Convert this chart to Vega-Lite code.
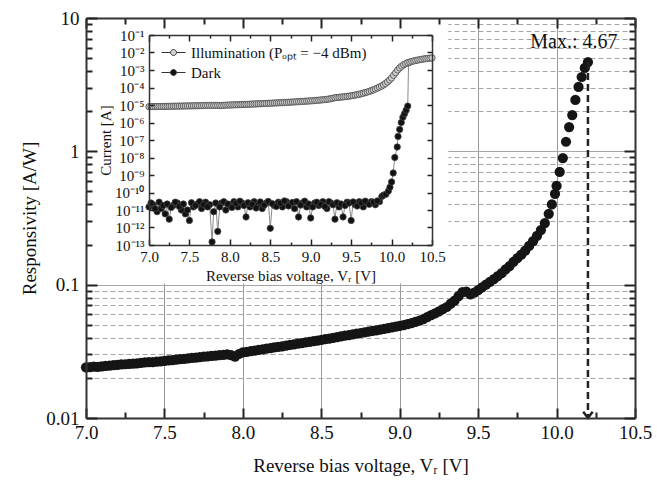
{
  "$schema": "https://vega.github.io/schema/vega-lite/v6.json",
  "width": 549,
  "height": 400,
  "autosize": {"type": "none"},
  "padding": {"left": 86, "top": 18, "right": 22, "bottom": 63},
  "background": "white",
  "config": {
    "view": {"stroke": null},
    "font": "Liberation Serif",
    "axis": {"grid": false, "labelFont": "Liberation Serif", "titleFont": "Liberation Serif", "labelColor": "#111", "titleColor": "#111", "titleFontWeight": "normal", "labelFlush": false, "labelOverlap": false, "labelBound": false}
  },
  "datasets": {
    "box": [{"x0": 7, "x1": 9.31, "y0": 0.102, "y1": 10}],
    "maxv": [{"V": 10.2, "top": 4.67, "bottom": 0.01, "label": "Max.: 4.67"}],
    "resp": [
      {"V": 7.000, "R": 0.0240}, {"V": 7.025, "R": 0.0241}, {"V": 7.050, "R": 0.0243}, {"V": 7.075, "R": 0.0242},
      {"V": 7.100, "R": 0.0244}, {"V": 7.125, "R": 0.0246}, {"V": 7.150, "R": 0.0247}, {"V": 7.175, "R": 0.0249},
      {"V": 7.200, "R": 0.0250}, {"V": 7.225, "R": 0.0252}, {"V": 7.250, "R": 0.0253}, {"V": 7.275, "R": 0.0255},
      {"V": 7.300, "R": 0.0256}, {"V": 7.325, "R": 0.0257}, {"V": 7.350, "R": 0.0259}, {"V": 7.375, "R": 0.0261},
      {"V": 7.400, "R": 0.0262}, {"V": 7.425, "R": 0.0263}, {"V": 7.450, "R": 0.0265}, {"V": 7.475, "R": 0.0266},
      {"V": 7.500, "R": 0.0268}, {"V": 7.525, "R": 0.0270}, {"V": 7.550, "R": 0.0272}, {"V": 7.575, "R": 0.0274},
      {"V": 7.600, "R": 0.0276}, {"V": 7.625, "R": 0.0278}, {"V": 7.650, "R": 0.0280}, {"V": 7.675, "R": 0.0282},
      {"V": 7.700, "R": 0.0284}, {"V": 7.725, "R": 0.0286}, {"V": 7.750, "R": 0.0288}, {"V": 7.775, "R": 0.0290},
      {"V": 7.800, "R": 0.0292}, {"V": 7.825, "R": 0.0294}, {"V": 7.850, "R": 0.0296}, {"V": 7.875, "R": 0.0298},
      {"V": 7.900, "R": 0.0300}, {"V": 7.925, "R": 0.0296}, {"V": 7.950, "R": 0.0288}, {"V": 7.975, "R": 0.0302},
      {"V": 8.000, "R": 0.0310}, {"V": 8.025, "R": 0.0313}, {"V": 8.050, "R": 0.0317}, {"V": 8.075, "R": 0.0320},
      {"V": 8.100, "R": 0.0324}, {"V": 8.125, "R": 0.0327}, {"V": 8.150, "R": 0.0331}, {"V": 8.175, "R": 0.0334},
      {"V": 8.200, "R": 0.0338}, {"V": 8.225, "R": 0.0342}, {"V": 8.250, "R": 0.0345}, {"V": 8.275, "R": 0.0349},
      {"V": 8.300, "R": 0.0353}, {"V": 8.325, "R": 0.0357}, {"V": 8.350, "R": 0.0361}, {"V": 8.375, "R": 0.0365},
      {"V": 8.400, "R": 0.0369}, {"V": 8.425, "R": 0.0373}, {"V": 8.450, "R": 0.0377}, {"V": 8.475, "R": 0.0381},
      {"V": 8.500, "R": 0.0385}, {"V": 8.525, "R": 0.0390}, {"V": 8.550, "R": 0.0394}, {"V": 8.575, "R": 0.0399},
      {"V": 8.600, "R": 0.0404}, {"V": 8.625, "R": 0.0409}, {"V": 8.650, "R": 0.0414}, {"V": 8.675, "R": 0.0419},
      {"V": 8.700, "R": 0.0424}, {"V": 8.725, "R": 0.0429}, {"V": 8.750, "R": 0.0434}, {"V": 8.775, "R": 0.0439},
      {"V": 8.800, "R": 0.0444}, {"V": 8.825, "R": 0.0450}, {"V": 8.850, "R": 0.0455}, {"V": 8.875, "R": 0.0461},
      {"V": 8.900, "R": 0.0466}, {"V": 8.925, "R": 0.0472}, {"V": 8.950, "R": 0.0478}, {"V": 8.975, "R": 0.0484},
      {"V": 9.000, "R": 0.0490}, {"V": 9.025, "R": 0.0498}, {"V": 9.050, "R": 0.0506}, {"V": 9.075, "R": 0.0514},
      {"V": 9.100, "R": 0.0525}, {"V": 9.125, "R": 0.0538}, {"V": 9.150, "R": 0.0552}, {"V": 9.175, "R": 0.0570},
      {"V": 9.200, "R": 0.0590}, {"V": 9.225, "R": 0.0610}, {"V": 9.250, "R": 0.0630}, {"V": 9.275, "R": 0.0655},
      {"V": 9.300, "R": 0.0680}, {"V": 9.325, "R": 0.0720}, {"V": 9.350, "R": 0.0760}, {"V": 9.375, "R": 0.0820},
      {"V": 9.400, "R": 0.0880}, {"V": 9.425, "R": 0.0885}, {"V": 9.450, "R": 0.0845}, {"V": 9.475, "R": 0.0870},
      {"V": 9.500, "R": 0.0910}, {"V": 9.525, "R": 0.0955}, {"V": 9.550, "R": 0.1000}, {"V": 9.575, "R": 0.1050},
      {"V": 9.600, "R": 0.1100}, {"V": 9.625, "R": 0.1160}, {"V": 9.650, "R": 0.1220}, {"V": 9.675, "R": 0.1300},
      {"V": 9.700, "R": 0.1380}, {"V": 9.725, "R": 0.1480}, {"V": 9.750, "R": 0.1580}, {"V": 9.775, "R": 0.1680},
      {"V": 9.800, "R": 0.1800}, {"V": 9.825, "R": 0.1950}, {"V": 9.850, "R": 0.2120}, {"V": 9.875, "R": 0.2320},
      {"V": 9.900, "R": 0.2570}, {"V": 9.925, "R": 0.2900}, {"V": 9.950, "R": 0.3400}, {"V": 9.970, "R": 0.4000},
      {"V": 9.990, "R": 0.4800}, {"V": 10.00, "R": 0.5500}, {"V": 10.02, "R": 0.7000}, {"V": 10.04, "R": 0.8900},
      {"V": 10.06, "R": 1.18}, {"V": 10.08, "R": 1.52}, {"V": 10.10, "R": 1.87}, {"V": 10.12, "R": 2.43},
      {"V": 10.14, "R": 3.04}, {"V": 10.16, "R": 3.61}, {"V": 10.18, "R": 4.22}, {"V": 10.20, "R": 4.67}
    ],
    "inset": [
      {"series": "Dark", "V": 7.00, "I": 1.5e-11}, {"series": "Dark", "V": 7.05, "I": 2.0e-11}, {"series": "Dark", "V": 7.10, "I": 8e-12},
      {"series": "Dark", "V": 7.15, "I": 1.2e-11}, {"series": "Dark", "V": 7.20, "I": 6e-12}, {"series": "Dark", "V": 7.25, "I": 3e-12},
      {"series": "Dark", "V": 7.30, "I": 1.8e-11}, {"series": "Dark", "V": 7.35, "I": 2.5e-11}, {"series": "Dark", "V": 7.40, "I": 1.0e-11},
      {"series": "Dark", "V": 7.45, "I": 6e-12}, {"series": "Dark", "V": 7.50, "I": 2.5e-12}, {"series": "Dark", "V": 7.55, "I": 1.5e-11},
      {"series": "Dark", "V": 7.60, "I": 2.2e-11}, {"series": "Dark", "V": 7.65, "I": 1.2e-11}, {"series": "Dark", "V": 7.70, "I": 2.8e-11},
      {"series": "Dark", "V": 7.75, "I": 2.0e-11}, {"series": "Dark", "V": 7.78, "I": 1.5e-13}, {"series": "Dark", "V": 7.80, "I": 8e-12},
      {"series": "Dark", "V": 7.85, "I": 6e-13}, {"series": "Dark", "V": 7.90, "I": 2.5e-11}, {"series": "Dark", "V": 7.95, "I": 1.0e-11},
      {"series": "Dark", "V": 8.00, "I": 2.0e-11}, {"series": "Dark", "V": 8.05, "I": 3.0e-11}, {"series": "Dark", "V": 8.10, "I": 1.5e-11},
      {"series": "Dark", "V": 8.15, "I": 2.5e-11}, {"series": "Dark", "V": 8.20, "I": 4e-12}, {"series": "Dark", "V": 8.25, "I": 1.5e-11},
      {"series": "Dark", "V": 8.30, "I": 3e-11}, {"series": "Dark", "V": 8.35, "I": 2e-11}, {"series": "Dark", "V": 8.40, "I": 1.2e-11},
      {"series": "Dark", "V": 8.45, "I": 2.5e-11}, {"series": "Dark", "V": 8.50, "I": 9e-13}, {"series": "Dark", "V": 8.55, "I": 1.8e-11},
      {"series": "Dark", "V": 8.60, "I": 2.8e-11}, {"series": "Dark", "V": 8.65, "I": 1.5e-11}, {"series": "Dark", "V": 8.70, "I": 3e-11},
      {"series": "Dark", "V": 8.75, "I": 2.2e-11}, {"series": "Dark", "V": 8.80, "I": 1.2e-11}, {"series": "Dark", "V": 8.85, "I": 4e-12},
      {"series": "Dark", "V": 8.90, "I": 2.5e-11}, {"series": "Dark", "V": 8.95, "I": 1.5e-11}, {"series": "Dark", "V": 9.00, "I": 3.5e-12},
      {"series": "Dark", "V": 9.05, "I": 2.5e-11}, {"series": "Dark", "V": 9.10, "I": 1.8e-11}, {"series": "Dark", "V": 9.15, "I": 3e-11},
      {"series": "Dark", "V": 9.20, "I": 1.2e-11}, {"series": "Dark", "V": 9.25, "I": 2.5e-11}, {"series": "Dark", "V": 9.30, "I": 3e-12},
      {"series": "Dark", "V": 9.35, "I": 1.5e-11}, {"series": "Dark", "V": 9.40, "I": 4e-12}, {"series": "Dark", "V": 9.45, "I": 2.8e-11},
      {"series": "Dark", "V": 9.50, "I": 2.5e-12}, {"series": "Dark", "V": 9.55, "I": 2e-11}, {"series": "Dark", "V": 9.60, "I": 3e-11},
      {"series": "Dark", "V": 9.65, "I": 1.5e-11}, {"series": "Dark", "V": 9.70, "I": 2.5e-11}, {"series": "Dark", "V": 9.75, "I": 3e-11},
      {"series": "Dark", "V": 9.80, "I": 2e-11}, {"series": "Dark", "V": 9.85, "I": 3e-11}, {"series": "Dark", "V": 9.88, "I": 6e-11},
      {"series": "Dark", "V": 9.90, "I": 7e-11}, {"series": "Dark", "V": 9.93, "I": 8e-11}, {"series": "Dark", "V": 9.96, "I": 1.2e-10},
      {"series": "Dark", "V": 9.98, "I": 2e-10}, {"series": "Dark", "V": 10.00, "I": 4e-10}, {"series": "Dark", "V": 10.02, "I": 1.3e-9},
      {"series": "Dark", "V": 10.04, "I": 1e-8}, {"series": "Dark", "V": 10.07, "I": 4e-8}, {"series": "Dark", "V": 10.08, "I": 1.6e-7},
      {"series": "Dark", "V": 10.10, "I": 4e-7}, {"series": "Dark", "V": 10.12, "I": 1e-6}, {"series": "Dark", "V": 10.14, "I": 2e-6},
      {"series": "Dark", "V": 10.16, "I": 3.2e-6}, {"series": "Dark", "V": 10.18, "I": 5e-6}, {"series": "Dark", "V": 10.20, "I": 8.7e-6},
      {"series": "Dark", "V": 10.21, "I": 2.6e-3},
      {"series": "Dark", "V": 7.025, "I": 2.5e-11}, {"series": "Dark", "V": 7.075, "I": 1.2e-11}, {"series": "Dark", "V": 7.125, "I": 2.8e-11},
      {"series": "Dark", "V": 7.175, "I": 1.8e-11}, {"series": "Dark", "V": 7.225, "I": 2.2e-11}, {"series": "Dark", "V": 7.275, "I": 1.4e-11},
      {"series": "Dark", "V": 7.325, "I": 2.8e-11}, {"series": "Dark", "V": 7.375, "I": 1.6e-11}, {"series": "Dark", "V": 7.425, "I": 2.2e-11},
      {"series": "Dark", "V": 7.475, "I": 1.0e-11}, {"series": "Dark", "V": 7.525, "I": 2.6e-11}, {"series": "Dark", "V": 7.575, "I": 1.8e-11},
      {"series": "Dark", "V": 7.625, "I": 3e-11}, {"series": "Dark", "V": 7.675, "I": 2e-11}, {"series": "Dark", "V": 7.725, "I": 1.5e-11},
      {"series": "Dark", "V": 7.825, "I": 2.5e-11}, {"series": "Dark", "V": 7.875, "I": 1.5e-11}, {"series": "Dark", "V": 7.925, "I": 3e-11},
      {"series": "Dark", "V": 7.975, "I": 2.2e-11}, {"series": "Dark", "V": 8.025, "I": 1.4e-11}, {"series": "Dark", "V": 8.075, "I": 2.4e-11},
      {"series": "Dark", "V": 8.125, "I": 3.2e-11}, {"series": "Dark", "V": 8.175, "I": 1.8e-11}, {"series": "Dark", "V": 8.225, "I": 2.6e-11},
      {"series": "Dark", "V": 8.275, "I": 2.1e-11}, {"series": "Dark", "V": 8.325, "I": 1.3e-11}, {"series": "Dark", "V": 8.375, "I": 2.9e-11},
      {"series": "Dark", "V": 8.425, "I": 1.9e-11}, {"series": "Dark", "V": 8.475, "I": 3.1e-11}, {"series": "Dark", "V": 8.525, "I": 2.3e-11},
      {"series": "Dark", "V": 8.575, "I": 1.6e-11}, {"series": "Dark", "V": 8.625, "I": 2.4e-11}, {"series": "Dark", "V": 8.675, "I": 3.3e-11},
      {"series": "Dark", "V": 8.725, "I": 1.7e-11}, {"series": "Dark", "V": 8.775, "I": 2.7e-11}, {"series": "Dark", "V": 8.825, "I": 3e-11},
      {"series": "Dark", "V": 8.875, "I": 1.9e-11}, {"series": "Dark", "V": 8.925, "I": 3.2e-11}, {"series": "Dark", "V": 8.975, "I": 2.2e-11},
      {"series": "Dark", "V": 9.025, "I": 1.5e-11}, {"series": "Dark", "V": 9.075, "I": 2.8e-11}, {"series": "Dark", "V": 9.125, "I": 2.1e-11},
      {"series": "Dark", "V": 9.175, "I": 1.6e-11}, {"series": "Dark", "V": 9.225, "I": 3e-11}, {"series": "Dark", "V": 9.275, "I": 2e-11},
      {"series": "Dark", "V": 9.325, "I": 2.6e-11}, {"series": "Dark", "V": 9.375, "I": 2.2e-11}, {"series": "Dark", "V": 9.425, "I": 1.8e-11},
      {"series": "Dark", "V": 9.475, "I": 2.5e-11}, {"series": "Dark", "V": 9.525, "I": 2.9e-11}, {"series": "Dark", "V": 9.575, "I": 1.7e-11},
      {"series": "Dark", "V": 9.625, "I": 2.6e-11}, {"series": "Dark", "V": 9.675, "I": 3.2e-11}, {"series": "Dark", "V": 9.725, "I": 2.1e-11},
      {"series": "Dark", "V": 9.775, "I": 2.8e-11}, {"series": "Dark", "V": 9.825, "I": 3.3e-11},
      {"series": "Illumination (Pₒₚₜ = −4 dBm)", "V": 7.00, "I": 8.0e-6}, {"series": "Illumination (Pₒₚₜ = −4 dBm)", "V": 7.025, "I": 8.05e-6},
      {"series": "Illumination (Pₒₚₜ = −4 dBm)", "V": 7.05, "I": 8.1e-6}, {"series": "Illumination (Pₒₚₜ = −4 dBm)", "V": 7.075, "I": 8.15e-6},
      {"series": "Illumination (Pₒₚₜ = −4 dBm)", "V": 7.10, "I": 8.2e-6}, {"series": "Illumination (Pₒₚₜ = −4 dBm)", "V": 7.125, "I": 8.2e-6},
      {"series": "Illumination (Pₒₚₜ = −4 dBm)", "V": 7.15, "I": 8.2e-6}, {"series": "Illumination (Pₒₚₜ = −4 dBm)", "V": 7.175, "I": 8.25e-6},
      {"series": "Illumination (Pₒₚₜ = −4 dBm)", "V": 7.20, "I": 8.3e-6}, {"series": "Illumination (Pₒₚₜ = −4 dBm)", "V": 7.225, "I": 8.35e-6},
      {"series": "Illumination (Pₒₚₜ = −4 dBm)", "V": 7.25, "I": 8.4e-6}, {"series": "Illumination (Pₒₚₜ = −4 dBm)", "V": 7.275, "I": 8.45e-6},
      {"series": "Illumination (Pₒₚₜ = −4 dBm)", "V": 7.30, "I": 8.5e-6}, {"series": "Illumination (Pₒₚₜ = −4 dBm)", "V": 7.325, "I": 8.55e-6},
      {"series": "Illumination (Pₒₚₜ = −4 dBm)", "V": 7.35, "I": 8.6e-6}, {"series": "Illumination (Pₒₚₜ = −4 dBm)", "V": 7.375, "I": 8.65e-6},
      {"series": "Illumination (Pₒₚₜ = −4 dBm)", "V": 7.40, "I": 8.7e-6}, {"series": "Illumination (Pₒₚₜ = −4 dBm)", "V": 7.425, "I": 8.75e-6},
      {"series": "Illumination (Pₒₚₜ = −4 dBm)", "V": 7.45, "I": 8.8e-6}, {"series": "Illumination (Pₒₚₜ = −4 dBm)", "V": 7.475, "I": 8.85e-6},
      {"series": "Illumination (Pₒₚₜ = −4 dBm)", "V": 7.50, "I": 8.9e-6}, {"series": "Illumination (Pₒₚₜ = −4 dBm)", "V": 7.525, "I": 8.95e-6},
      {"series": "Illumination (Pₒₚₜ = −4 dBm)", "V": 7.55, "I": 9.0e-6}, {"series": "Illumination (Pₒₚₜ = −4 dBm)", "V": 7.575, "I": 9.05e-6},
      {"series": "Illumination (Pₒₚₜ = −4 dBm)", "V": 7.60, "I": 9.1e-6}, {"series": "Illumination (Pₒₚₜ = −4 dBm)", "V": 7.625, "I": 9.15e-6},
      {"series": "Illumination (Pₒₚₜ = −4 dBm)", "V": 7.65, "I": 9.2e-6}, {"series": "Illumination (Pₒₚₜ = −4 dBm)", "V": 7.675, "I": 9.3e-6},
      {"series": "Illumination (Pₒₚₜ = −4 dBm)", "V": 7.70, "I": 9.4e-6}, {"series": "Illumination (Pₒₚₜ = −4 dBm)", "V": 7.725, "I": 9.45e-6},
      {"series": "Illumination (Pₒₚₜ = −4 dBm)", "V": 7.75, "I": 9.5e-6}, {"series": "Illumination (Pₒₚₜ = −4 dBm)", "V": 7.775, "I": 9.45e-6},
      {"series": "Illumination (Pₒₚₜ = −4 dBm)", "V": 7.80, "I": 9.4e-6}, {"series": "Illumination (Pₒₚₜ = −4 dBm)", "V": 7.825, "I": 9.45e-6},
      {"series": "Illumination (Pₒₚₜ = −4 dBm)", "V": 7.85, "I": 9.5e-6}, {"series": "Illumination (Pₒₚₜ = −4 dBm)", "V": 7.875, "I": 9.4e-6},
      {"series": "Illumination (Pₒₚₜ = −4 dBm)", "V": 7.90, "I": 9.3e-6}, {"series": "Illumination (Pₒₚₜ = −4 dBm)", "V": 7.925, "I": 9.5e-6},
      {"series": "Illumination (Pₒₚₜ = −4 dBm)", "V": 7.95, "I": 9.8e-6}, {"series": "Illumination (Pₒₚₜ = −4 dBm)", "V": 7.975, "I": 9.9e-6},
      {"series": "Illumination (Pₒₚₜ = −4 dBm)", "V": 8.00, "I": 1.0e-5}, {"series": "Illumination (Pₒₚₜ = −4 dBm)", "V": 8.025, "I": 1.01e-5},
      {"series": "Illumination (Pₒₚₜ = −4 dBm)", "V": 8.05, "I": 1.02e-5}, {"series": "Illumination (Pₒₚₜ = −4 dBm)", "V": 8.075, "I": 1.03e-5},
      {"series": "Illumination (Pₒₚₜ = −4 dBm)", "V": 8.10, "I": 1.04e-5}, {"series": "Illumination (Pₒₚₜ = −4 dBm)", "V": 8.125, "I": 1.05e-5},
      {"series": "Illumination (Pₒₚₜ = −4 dBm)", "V": 8.15, "I": 1.06e-5}, {"series": "Illumination (Pₒₚₜ = −4 dBm)", "V": 8.175, "I": 1.075e-5},
      {"series": "Illumination (Pₒₚₜ = −4 dBm)", "V": 8.20, "I": 1.09e-5}, {"series": "Illumination (Pₒₚₜ = −4 dBm)", "V": 8.225, "I": 1.1e-5},
      {"series": "Illumination (Pₒₚₜ = −4 dBm)", "V": 8.25, "I": 1.11e-5}, {"series": "Illumination (Pₒₚₜ = −4 dBm)", "V": 8.275, "I": 1.125e-5},
      {"series": "Illumination (Pₒₚₜ = −4 dBm)", "V": 8.30, "I": 1.14e-5}, {"series": "Illumination (Pₒₚₜ = −4 dBm)", "V": 8.325, "I": 1.155e-5},
      {"series": "Illumination (Pₒₚₜ = −4 dBm)", "V": 8.35, "I": 1.17e-5}, {"series": "Illumination (Pₒₚₜ = −4 dBm)", "V": 8.375, "I": 1.185e-5},
      {"series": "Illumination (Pₒₚₜ = −4 dBm)", "V": 8.40, "I": 1.2e-5}, {"series": "Illumination (Pₒₚₜ = −4 dBm)", "V": 8.425, "I": 1.215e-5},
      {"series": "Illumination (Pₒₚₜ = −4 dBm)", "V": 8.45, "I": 1.23e-5}, {"series": "Illumination (Pₒₚₜ = −4 dBm)", "V": 8.475, "I": 1.245e-5},
      {"series": "Illumination (Pₒₚₜ = −4 dBm)", "V": 8.50, "I": 1.26e-5}, {"series": "Illumination (Pₒₚₜ = −4 dBm)", "V": 8.525, "I": 1.28e-5},
      {"series": "Illumination (Pₒₚₜ = −4 dBm)", "V": 8.55, "I": 1.3e-5}, {"series": "Illumination (Pₒₚₜ = −4 dBm)", "V": 8.575, "I": 1.315e-5},
      {"series": "Illumination (Pₒₚₜ = −4 dBm)", "V": 8.60, "I": 1.33e-5}, {"series": "Illumination (Pₒₚₜ = −4 dBm)", "V": 8.625, "I": 1.35e-5},
      {"series": "Illumination (Pₒₚₜ = −4 dBm)", "V": 8.65, "I": 1.37e-5}, {"series": "Illumination (Pₒₚₜ = −4 dBm)", "V": 8.675, "I": 1.39e-5},
      {"series": "Illumination (Pₒₚₜ = −4 dBm)", "V": 8.70, "I": 1.41e-5}, {"series": "Illumination (Pₒₚₜ = −4 dBm)", "V": 8.725, "I": 1.43e-5},
      {"series": "Illumination (Pₒₚₜ = −4 dBm)", "V": 8.75, "I": 1.45e-5}, {"series": "Illumination (Pₒₚₜ = −4 dBm)", "V": 8.775, "I": 1.475e-5},
      {"series": "Illumination (Pₒₚₜ = −4 dBm)", "V": 8.80, "I": 1.5e-5}, {"series": "Illumination (Pₒₚₜ = −4 dBm)", "V": 8.825, "I": 1.525e-5},
      {"series": "Illumination (Pₒₚₜ = −4 dBm)", "V": 8.85, "I": 1.55e-5}, {"series": "Illumination (Pₒₚₜ = −4 dBm)", "V": 8.875, "I": 1.575e-5},
      {"series": "Illumination (Pₒₚₜ = −4 dBm)", "V": 8.90, "I": 1.6e-5}, {"series": "Illumination (Pₒₚₜ = −4 dBm)", "V": 8.925, "I": 1.63e-5},
      {"series": "Illumination (Pₒₚₜ = −4 dBm)", "V": 8.95, "I": 1.66e-5}, {"series": "Illumination (Pₒₚₜ = −4 dBm)", "V": 8.975, "I": 1.69e-5},
      {"series": "Illumination (Pₒₚₜ = −4 dBm)", "V": 9.00, "I": 1.72e-5}, {"series": "Illumination (Pₒₚₜ = −4 dBm)", "V": 9.025, "I": 1.76e-5},
      {"series": "Illumination (Pₒₚₜ = −4 dBm)", "V": 9.05, "I": 1.8e-5}, {"series": "Illumination (Pₒₚₜ = −4 dBm)", "V": 9.075, "I": 1.84e-5},
      {"series": "Illumination (Pₒₚₜ = −4 dBm)", "V": 9.10, "I": 1.88e-5}, {"series": "Illumination (Pₒₚₜ = −4 dBm)", "V": 9.125, "I": 1.93e-5},
      {"series": "Illumination (Pₒₚₜ = −4 dBm)", "V": 9.15, "I": 1.98e-5}, {"series": "Illumination (Pₒₚₜ = −4 dBm)", "V": 9.175, "I": 2.04e-5},
      {"series": "Illumination (Pₒₚₜ = −4 dBm)", "V": 9.20, "I": 2.1e-5}, {"series": "Illumination (Pₒₚₜ = −4 dBm)", "V": 9.225, "I": 2.2e-5},
      {"series": "Illumination (Pₒₚₜ = −4 dBm)", "V": 9.25, "I": 2.3e-5}, {"series": "Illumination (Pₒₚₜ = −4 dBm)", "V": 9.275, "I": 2.45e-5},
      {"series": "Illumination (Pₒₚₜ = −4 dBm)", "V": 9.30, "I": 2.6e-5}, {"series": "Illumination (Pₒₚₜ = −4 dBm)", "V": 9.325, "I": 2.68e-5},
      {"series": "Illumination (Pₒₚₜ = −4 dBm)", "V": 9.35, "I": 2.75e-5}, {"series": "Illumination (Pₒₚₜ = −4 dBm)", "V": 9.375, "I": 2.82e-5},
      {"series": "Illumination (Pₒₚₜ = −4 dBm)", "V": 9.40, "I": 2.9e-5}, {"series": "Illumination (Pₒₚₜ = −4 dBm)", "V": 9.425, "I": 3.0e-5},
      {"series": "Illumination (Pₒₚₜ = −4 dBm)", "V": 9.45, "I": 3.1e-5}, {"series": "Illumination (Pₒₚₜ = −4 dBm)", "V": 9.475, "I": 3.22e-5},
      {"series": "Illumination (Pₒₚₜ = −4 dBm)", "V": 9.50, "I": 3.35e-5}, {"series": "Illumination (Pₒₚₜ = −4 dBm)", "V": 9.525, "I": 3.5e-5},
      {"series": "Illumination (Pₒₚₜ = −4 dBm)", "V": 9.55, "I": 3.7e-5}, {"series": "Illumination (Pₒₚₜ = −4 dBm)", "V": 9.575, "I": 3.9e-5},
      {"series": "Illumination (Pₒₚₜ = −4 dBm)", "V": 9.60, "I": 4.1e-5}, {"series": "Illumination (Pₒₚₜ = −4 dBm)", "V": 9.625, "I": 4.4e-5},
      {"series": "Illumination (Pₒₚₜ = −4 dBm)", "V": 9.65, "I": 4.7e-5}, {"series": "Illumination (Pₒₚₜ = −4 dBm)", "V": 9.675, "I": 5.1e-5},
      {"series": "Illumination (Pₒₚₜ = −4 dBm)", "V": 9.70, "I": 5.5e-5}, {"series": "Illumination (Pₒₚₜ = −4 dBm)", "V": 9.725, "I": 6.0e-5},
      {"series": "Illumination (Pₒₚₜ = −4 dBm)", "V": 9.75, "I": 6.6e-5}, {"series": "Illumination (Pₒₚₜ = −4 dBm)", "V": 9.775, "I": 7.3e-5},
      {"series": "Illumination (Pₒₚₜ = −4 dBm)", "V": 9.80, "I": 8.2e-5}, {"series": "Illumination (Pₒₚₜ = −4 dBm)", "V": 9.825, "I": 9.3e-5},
      {"series": "Illumination (Pₒₚₜ = −4 dBm)", "V": 9.85, "I": 1.05e-4}, {"series": "Illumination (Pₒₚₜ = −4 dBm)", "V": 9.875, "I": 1.2e-4},
      {"series": "Illumination (Pₒₚₜ = −4 dBm)", "V": 9.90, "I": 1.4e-4}, {"series": "Illumination (Pₒₚₜ = −4 dBm)", "V": 9.925, "I": 1.7e-4},
      {"series": "Illumination (Pₒₚₜ = −4 dBm)", "V": 9.95, "I": 2.1e-4}, {"series": "Illumination (Pₒₚₜ = −4 dBm)", "V": 9.975, "I": 2.7e-4},
      {"series": "Illumination (Pₒₚₜ = −4 dBm)", "V": 10.00, "I": 3.5e-4}, {"series": "Illumination (Pₒₚₜ = −4 dBm)", "V": 10.025, "I": 5.0e-4},
      {"series": "Illumination (Pₒₚₜ = −4 dBm)", "V": 10.05, "I": 7.0e-4}, {"series": "Illumination (Pₒₚₜ = −4 dBm)", "V": 10.075, "I": 1.0e-3},
      {"series": "Illumination (Pₒₚₜ = −4 dBm)", "V": 10.10, "I": 1.3e-3}, {"series": "Illumination (Pₒₚₜ = −4 dBm)", "V": 10.125, "I": 1.65e-3},
      {"series": "Illumination (Pₒₚₜ = −4 dBm)", "V": 10.15, "I": 2.0e-3}, {"series": "Illumination (Pₒₚₜ = −4 dBm)", "V": 10.175, "I": 2.3e-3},
      {"series": "Illumination (Pₒₚₜ = −4 dBm)", "V": 10.20, "I": 2.6e-3}, {"series": "Illumination (Pₒₚₜ = −4 dBm)", "V": 10.225, "I": 2.85e-3},
      {"series": "Illumination (Pₒₚₜ = −4 dBm)", "V": 10.25, "I": 3.1e-3}, {"series": "Illumination (Pₒₚₜ = −4 dBm)", "V": 10.275, "I": 3.3e-3},
      {"series": "Illumination (Pₒₚₜ = −4 dBm)", "V": 10.30, "I": 3.5e-3}, {"series": "Illumination (Pₒₚₜ = −4 dBm)", "V": 10.325, "I": 3.7e-3},
      {"series": "Illumination (Pₒₚₜ = −4 dBm)", "V": 10.35, "I": 3.9e-3}, {"series": "Illumination (Pₒₚₜ = −4 dBm)", "V": 10.375, "I": 4.1e-3},
      {"series": "Illumination (Pₒₚₜ = −4 dBm)", "V": 10.40, "I": 4.3e-3}, {"series": "Illumination (Pₒₚₜ = −4 dBm)", "V": 10.425, "I": 4.45e-3},
      {"series": "Illumination (Pₒₚₜ = −4 dBm)", "V": 10.45, "I": 4.6e-3}, {"series": "Illumination (Pₒₚₜ = −4 dBm)", "V": 10.475, "I": 4.75e-3},
      {"series": "Illumination (Pₒₚₜ = −4 dBm)", "V": 10.50, "I": 4.9e-3}
    ]
  },
  "layer": [
    {
      "layer": [
        {
          "data": {"name": "box"},
          "mark": {"type": "point", "opacity": 0},
          "encoding": {
            "x": {"field": "x0", "type": "quantitative", "scale": {"domain": [7, 10.5], "nice": false, "zero": false},
              "axis": {"orient": "bottom", "grid": true, "values": [7.5, 8, 8.5, 9, 9.5, 10], "gridColor": "#9a9a9a", "gridWidth": 1, "labels": false, "ticks": false, "domain": false, "title": null, "zindex": 0}},
            "y": {"field": "y1", "type": "quantitative", "scale": {"type": "log", "domain": [0.01, 10], "nice": false},
              "axis": {"orient": "left", "grid": true, "values": [0.02, 0.03, 0.04, 0.05, 0.06, 0.07, 0.08, 0.09, 0.1, 0.2, 0.3, 0.4, 0.5, 0.6, 0.7, 0.8, 0.9, 1, 2, 3, 4, 5, 6, 7, 8, 9],
                "gridColor": "#a5a5a5", "gridWidth": 1,
                "gridDash": {"condition": {"test": "abs(log(datum.value)/LN10 - round(log(datum.value)/LN10)) < 0.001", "value": []}, "value": [5, 3]},
                "labels": false, "ticks": false, "domain": false, "title": null, "zindex": 0}}
          }
        },
        {
          "data": {"name": "box"},
          "mark": {"type": "rect", "fill": "white"},
          "encoding": {
            "x": {"field": "x0", "type": "quantitative", "scale": {"domain": [7, 10.5], "nice": false, "zero": false}, "axis": null},
            "x2": {"field": "x1"},
            "y": {"field": "y0", "type": "quantitative", "scale": {"type": "log", "domain": [0.01, 10], "nice": false}, "axis": null},
            "y2": {"field": "y1"}
          }
        },
        {
          "data": {"name": "resp"},
          "mark": {"type": "point", "filled": true, "size": 105, "color": "#151515", "opacity": 1},
          "encoding": {
            "x": {"field": "V", "type": "quantitative", "scale": {"domain": [7, 10.5], "nice": false, "zero": false},
              "axis": {"orient": "bottom", "values": [7, 7.25, 7.5, 7.75, 8, 8.25, 8.5, 8.75, 9, 9.25, 9.5, 9.75, 10, 10.25, 10.5],
                "labelExpr": "abs(datum.value*2-round(datum.value*2))<0.01 ? format(datum.value, '.1f') : ''",
                "tickSize": {"condition": {"test": "abs(datum.value*2-round(datum.value*2))<0.01", "value": -10}, "value": -6},
                "tickColor": "#222", "tickWidth": 2, "domainColor": "#333", "domainWidth": 2,
                "labelPadding": 15, "labelFontSize": 19,
                "title": "Reverse bias voltage,  Vᵣ [V]", "titleFontSize": 19, "titlePadding": 10, "zindex": 1}},
            "y": {"field": "R", "type": "quantitative", "scale": {"type": "log", "domain": [0.01, 10], "nice": false},
              "axis": {"orient": "left", "values": [0.01, 0.02, 0.03, 0.04, 0.05, 0.06, 0.07, 0.08, 0.09, 0.1, 0.2, 0.3, 0.4, 0.5, 0.6, 0.7, 0.8, 0.9, 1, 2, 3, 4, 5, 6, 7, 8, 9, 10],
                "labelExpr": "abs(log(datum.value)/LN10 - round(log(datum.value)/LN10)) < 0.001 ? format(datum.value, '~g') : ''",
                "tickSize": {"condition": {"test": "abs(log(datum.value)/LN10 - round(log(datum.value)/LN10)) < 0.001", "value": -11}, "value": -6},
                "tickColor": "#222", "tickWidth": 2, "domainColor": "#333", "domainWidth": 2,
                "labelPadding": 18, "labelFontSize": 19,
                "title": "Responsivity [A/W]", "titleFontSize": 19, "titlePadding": 6, "zindex": 1}}
          }
        },
        {
          "data": {"name": "box"},
          "mark": {"type": "point", "opacity": 0},
          "encoding": {
            "x": {"field": "x0", "type": "quantitative", "scale": {"domain": [7, 10.5], "nice": false, "zero": false},
              "axis": {"orient": "top", "values": [7, 7.25, 7.5, 7.75, 8, 8.25, 8.5, 8.75, 9, 9.25, 9.5, 9.75, 10, 10.25, 10.5], "labels": false,
                "tickSize": {"condition": {"test": "abs(datum.value*2-round(datum.value*2))<0.01", "value": -10}, "value": -6},
                "tickColor": "#222", "tickWidth": 2, "domainColor": "#333", "domainWidth": 2, "title": null, "zindex": 1}},
            "y": {"field": "y1", "type": "quantitative", "scale": {"type": "log", "domain": [0.01, 10], "nice": false},
              "axis": {"orient": "right", "values": [0.01, 0.02, 0.03, 0.04, 0.05, 0.06, 0.07, 0.08, 0.09, 0.1, 0.2, 0.3, 0.4, 0.5, 0.6, 0.7, 0.8, 0.9, 1, 2, 3, 4, 5, 6, 7, 8, 9, 10], "labels": false,
                "tickSize": {"condition": {"test": "abs(log(datum.value)/LN10 - round(log(datum.value)/LN10)) < 0.001", "value": -11}, "value": -6},
                "tickColor": "#222", "tickWidth": 2, "domainColor": "#333", "domainWidth": 2, "title": null, "zindex": 1}}
          }
        },
        {
          "data": {"name": "maxv"},
          "mark": {"type": "rule", "strokeDash": [7, 4], "strokeWidth": 2.5, "color": "#222"},
          "encoding": {
            "x": {"field": "V", "type": "quantitative", "scale": {"domain": [7, 10.5], "nice": false, "zero": false}, "axis": null},
            "y": {"field": "top", "type": "quantitative", "scale": {"type": "log", "domain": [0.01, 10], "nice": false}, "axis": null},
            "y2": {"field": "bottom"}
          }
        },
        {
          "data": {"name": "maxv"},
          "mark": {"type": "point", "shape": "M-1,-1.3L0,0L1,-1.3", "size": 90, "filled": false, "stroke": "#222", "strokeWidth": 2.5, "opacity": 1},
          "encoding": {
            "x": {"field": "V", "type": "quantitative", "scale": {"domain": [7, 10.5], "nice": false, "zero": false}, "axis": null},
            "y": {"field": "bottom", "type": "quantitative", "scale": {"type": "log", "domain": [0.01, 10], "nice": false}, "axis": null}
          }
        },
        {
          "data": {"name": "maxv"},
          "mark": {"type": "text", "font": "Liberation Serif", "fontSize": 20, "dx": -14, "dy": -20, "color": "#111"},
          "encoding": {
            "x": {"field": "V", "type": "quantitative", "scale": {"domain": [7, 10.5], "nice": false, "zero": false}, "axis": null},
            "y": {"field": "top", "type": "quantitative", "scale": {"type": "log", "domain": [0.01, 10], "nice": false}, "axis": null},
            "text": {"field": "label"}
          }
        }
      ],
      "resolve": {"axis": {"x": "independent", "y": "independent"}}
    },
    {
      "data": {"name": "inset"},
      "layer": [
        {
          "mark": {"type": "line", "stroke": "#8a8a8a", "strokeWidth": 1},
          "encoding": {
            "x": {"field": "V", "type": "quantitative", "scale": {"domain": [7, 10.5], "range": [63, 346], "nice": false, "zero": false},
              "axis": {"orient": "bottom", "offset": -173, "values": [7, 7.25, 7.5, 7.75, 8, 8.25, 8.5, 8.75, 9, 9.25, 9.5, 9.75, 10, 10.25, 10.5],
                "labelExpr": "abs(datum.value*2-round(datum.value*2))<0.01 ? format(datum.value, '.1f') : ''",
                "tickSize": {"condition": {"test": "abs(datum.value*2-round(datum.value*2))<0.01", "value": -6}, "value": -3},
                "tickColor": "#222", "tickWidth": 1.5, "domainColor": "#333", "domainWidth": 1.5,
                "labelPadding": 10, "labelFontSize": 15,
                "title": "Reverse bias voltage,  Vᵣ [V]", "titleFontSize": 15, "titlePadding": 1, "zindex": 1}},
            "y": {"field": "I", "type": "quantitative", "scale": {"type": "log", "domain": [1e-13, 0.1], "range": [227, 17], "nice": false},
              "axis": {"orient": "left", "offset": -63, "values": [1e-13, 1e-12, 1e-11, 1e-10, 1e-9, 1e-8, 1e-7, 1e-6, 1e-5, 1e-4, 1e-3, 1e-2, 1e-1],
                "labelExpr": "'10' + ({'-1':'⁻¹','-2':'⁻²','-3':'⁻³','-4':'⁻⁴','-5':'⁻⁵','-6':'⁻⁶','-7':'⁻⁷','-8':'⁻⁸','-9':'⁻⁹','-10':'⁻¹⁰','-11':'⁻¹¹','-12':'⁻¹²','-13':'⁻¹³'})['' + round(log(datum.value)/LN10)]",
                "tickSize": -5, "tickColor": "#222", "tickWidth": 1.5, "domainColor": "#333", "domainWidth": 1.5,
                "labelPadding": 10, "labelFontSize": 15,
                "title": "Current [A]", "titleFontSize": 15, "titlePadding": 1, "zindex": 1}},
            "detail": {"field": "series"}
          }
        },
        {
          "mark": {"type": "point", "filled": true, "size": 40, "stroke": "#444", "strokeWidth": 0.8, "opacity": 1},
          "encoding": {
            "x": {"field": "V", "type": "quantitative", "scale": {"domain": [7, 10.5], "range": [63, 346], "nice": false, "zero": false},
              "axis": {"orient": "top", "offset": -17, "values": [7, 7.25, 7.5, 7.75, 8, 8.25, 8.5, 8.75, 9, 9.25, 9.5, 9.75, 10, 10.25, 10.5], "labels": false,
                "tickSize": {"condition": {"test": "abs(datum.value*2-round(datum.value*2))<0.01", "value": -6}, "value": -3},
                "tickColor": "#222", "tickWidth": 1.5, "domainColor": "#333", "domainWidth": 1.5, "title": null, "zindex": 1}},
            "y": {"field": "I", "type": "quantitative", "scale": {"type": "log", "domain": [1e-13, 0.1], "range": [227, 17], "nice": false},
              "axis": {"orient": "right", "offset": -203, "values": [1e-13, 1e-12, 1e-11, 1e-10, 1e-9, 1e-8, 1e-7, 1e-6, 1e-5, 1e-4, 1e-3, 1e-2, 1e-1], "labels": false,
                "tickSize": -5, "tickColor": "#222", "tickWidth": 1.5, "domainColor": "#333", "domainWidth": 1.5, "title": null, "zindex": 1}},
            "fill": {"field": "series", "type": "nominal",
              "scale": {"domain": ["Illumination (Pₒₚₜ = −4 dBm)", "Dark"], "range": ["#cfcfcf", "#111111"]},
              "legend": {"orient": "none", "legendX": 80, "legendY": 27, "title": null,
                "symbolType": "M-4,0H-1M1,0H4M-1,0A1,1,0,1,0,1,0A1,1,0,1,0,-1,0",
                "symbolSize": 36, "symbolStrokeColor": "#333", "symbolStrokeWidth": 1,
                "labelFont": "Liberation Serif", "labelFontSize": 15, "labelColor": "#111", "labelOffset": 10, "labelLimit": 400, "rowPadding": 4}}
          }
        }
      ],
      "resolve": {"axis": {"x": "independent", "y": "independent"}}
    }
  ],
  "resolve": {"scale": {"x": "independent", "y": "independent"}, "axis": {"x": "independent", "y": "independent"}}
}
